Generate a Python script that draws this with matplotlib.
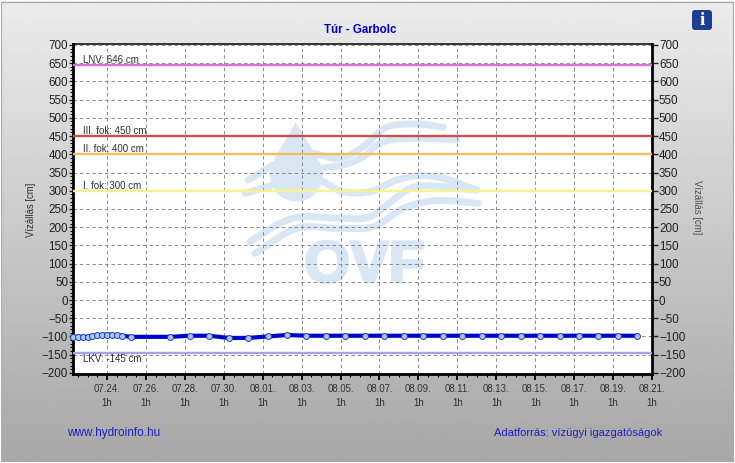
import datetime as dt
import numpy as np
import matplotlib
matplotlib.use("Agg")
import matplotlib.pyplot as plt
import matplotlib.dates as mdates
import matplotlib.patheffects as pe
from matplotlib.patches import Rectangle, Circle, Polygon, FancyBboxPatch

plt.rcParams['font.family'] = ['Liberation Sans', 'DejaVu Sans']

TITLE = "Túr - Garbolc"
YLABEL = "Vízállás [cm]"
times = ["07.22 07", "07.22 13", "07.22 19", "07.23 01", "07.23 07", "07.23 13", "07.23 19",
         "07.24 01", "07.24 07", "07.24 13", "07.24 19", "07.25 07", "07.27 07", "07.28 07",
         "07.29 07", "07.30 07", "07.31 07", "08.01 07", "08.02 07", "08.03 07", "08.04 07",
         "08.05 07", "08.06 07", "08.07 07", "08.08 07", "08.09 07", "08.10 07", "08.11 07",
         "08.12 07", "08.13 07", "08.14 07", "08.15 07", "08.16 07", "08.17 07", "08.18 07",
         "08.19 07", "08.20 07"]
levels = [-101, -101, -101, -101, -99, -97, -96, -95, -95, -97, -98, -101, -101, -98,
          -98, -104, -104, -100, -96, -98, -98,
          -98, -98, -98, -98, -98, -98, -98,
          -98, -98, -98, -98, -98, -98, -98,
          -98, -98]
threshold_names = ["LNV: 646 cm", "III. fok: 450 cm", "II. fok: 400 cm", "I. fok: 300 cm", "LKV: -145 cm"]
threshold_values = [646, 450, 400, 300, -145]
threshold_colors = ["#d873d8", "#c85050", "#f0c060", "#f6f28c", "#a4a4ee"]
tick_start = "07.24 01"
tick_end = "08.21 01"

W, H = 735, 463
fig = plt.figure(figsize=(W / 100, H / 100), dpi=100)

def parse(s):
    return dt.datetime.strptime("2024." + s, "%Y.%m.%d %H")

# background layer in pixel coordinates
bg = fig.add_axes([0, 0, 1, 1], zorder=0)
bg.set_xlim(0, W); bg.set_ylim(H, 0); bg.axis('off')
grad = np.linspace(0.925, 0.655, 256).reshape(-1, 1)
bg.imshow(grad, extent=(0, W, H, 0), aspect='auto', cmap='gray', vmin=0, vmax=1, zorder=0)
bg.set_xlim(0, W); bg.set_ylim(H, 0)
bg.add_patch(Rectangle((1.5, 1.5), W - 3, H - 3, fill=False, ec="#a8a8a8", lw=0.9, zorder=1))
bg.add_patch(Rectangle((0, 0), W, H, fill=False, ec="#ffffff", lw=1.5, zorder=1))
bg.add_patch(Rectangle((73, 44), 579, 330, fc="white", ec="none", zorder=1))

WM = "#d9e6f3"
def spline(pts, n=24):
    p = np.array(pts, float)
    p = np.vstack([2 * p[0] - p[1], p, 2 * p[-1] - p[-2]])
    out = []
    for i in range(1, len(p) - 2):
        for t in np.linspace(0, 1, n, endpoint=False):
            out.append(0.5 * (2 * p[i] + (p[i + 1] - p[i - 1]) * t
                              + (2 * p[i - 1] - 5 * p[i] + 4 * p[i + 1] - p[i + 2]) * t ** 2
                              + (3 * p[i] - p[i - 1] - 3 * p[i + 1] + p[i + 2]) * t ** 3))
    out.append(p[-2])
    return np.array(out)

waves = [
    [(55, 210), (130, 165)],
    [(45, 250), (130, 225)],
    [(250, 130), (330, 145), (400, 110), (470, 52), (560, 42), (640, 52)],
    [(270, 175), (340, 165), (400, 140), (460, 95), (560, 85), (680, 90)],
    [(280, 215), (340, 245), (420, 245), (500, 210), (570, 197), (640, 205), (740, 240)],
    [(60, 395), (150, 340), (220, 320), (330, 325), (420, 320), (500, 262), (570, 228), (740, 240)],
    [(75, 430), (200, 355), (320, 355), (430, 350), (520, 295), (620, 272), (745, 280)],
]
for w in waves:
    c = spline(w)
    bg.plot(230 + c[:, 0] / 3, 110 + c[:, 1] / 3, color=WM, lw=5.0, solid_capstyle='round', zorder=2)
bg.add_patch(Circle((296.5, 175), 26.5, fc=WM, ec="none", zorder=2))
bg.add_patch(Polygon([(295.7, 122), (287, 138), (276, 155), (270.5, 170), (322.5, 170), (316, 155), (305, 138)],
                     fc=WM, ec="none", zorder=2))
ovf = bg.text(364.5, 267, "OVF", fontsize=42, fontweight='bold', color=WM, ha='center', va='center', zorder=2)
ovf.set_path_effects([pe.withStroke(linewidth=2.2, foreground=WM)])

# info icon
bg.add_patch(FancyBboxPatch((694, 12), 16, 16, boxstyle="round,pad=2,rounding_size=3", fc="#1c3f94", ec="none", zorder=3))
bg.text(702, 20.5, "i", fontsize=14, fontweight='bold', family='Liberation Serif', color="white",
        ha='center', va='center', zorder=4)

# main axes
ax = fig.add_axes([73 / W, 1 - 374 / H, 579 / W, 330 / H], zorder=1)
ax.patch.set_alpha(0)
x = [parse(t) for t in times]
t0, t1 = parse(tick_start), parse(tick_end)
ax.set_xlim(t0 - dt.timedelta(days=1.746), t1)
ax.set_ylim(-203, 702.7)

major = [mdates.date2num(t0 + dt.timedelta(days=2 * i)) for i in range(15)]
minor = [mdates.date2num(t0 + dt.timedelta(days=0.5 * i)) for i in range(-3, 57)]
ax.set_xticks(major)
ax.set_xticks(minor, minor=True)
ax.set_xticklabels([mdates.num2date(m).strftime("%m.%d.") + "\n1h" for m in major],
                   fontsize=6.9, color="#303030", linespacing=1.45)
ax.set_yticks(np.arange(-200, 701, 50))
ax.set_yticks(np.arange(-200, 701, 10), minor=True)
ax.tick_params(axis='y', which='major', length=3, width=1, labelsize=8.4, pad=0.5, colors="#202020")
ax.tick_params(axis='y', which='minor', length=2.2, width=0.8, color="black")
ax.tick_params(axis='x', which='major', length=4, width=1.4, pad=3.5)
ax.tick_params(axis='x', which='minor', length=2.2, width=0.8)
ax.grid(True, which='major', color="#8a8a8a", ls=(0, (3.5, 3)), lw=0.7, zorder=1)
ax.set_axisbelow(True)
for s, lw in zip(['left', 'bottom', 'right', 'top'], [2, 2, 2, 1.1]):
    ax.spines[s].set_linewidth(lw)
    ax.spines[s].set_color("black")

for name, val, col in zip(threshold_names, threshold_values, threshold_colors):
    ax.axhline(val, color=col, lw=1.7, zorder=3)
    above = val > 0
    ax.annotate(name, (0, val), xycoords=('axes fraction', 'data'), xytext=(7.5, 0 if above else -0.8),
                textcoords='offset points', fontsize=7.0, color="#303030",
                va='bottom' if above else 'top', ha='left', zorder=4)

ax.plot(x, levels, color="#0000d0", lw=3.0, marker='o', ms=4.3, mfc="#a8c8f2", mec="#2040c0",
        mew=0.7, zorder=5, clip_on=False)

# right value axis
axr = ax.twinx()
axr.set_ylim(ax.get_ylim())
axr.set_yticks(np.arange(-200, 701, 50))
axr.tick_params(axis='y', length=4, width=1, labelsize=8.4, pad=1, colors="#202020")
for s in axr.spines.values():
    s.set_visible(False)

bg.text(31, 210, YLABEL, rotation=90, fontsize=6.9, color="#303030", ha='center', va='center', zorder=3)
bg.text(697, 207.5, YLABEL, rotation=270, fontsize=6.9, color="#505050", ha='center', va='center', zorder=3)
bg.text(360.5, 30, TITLE, fontsize=8.3, fontweight='bold', color="#0000c8", ha='center', va='center', zorder=3)
bg.text(67, 433, "www.hydroinfo.hu", fontsize=8.5, color="#2020c0", ha='left', va='center', zorder=3)
bg.text(662, 433, "Adatforrás: vízügyi igazgatóságok", fontsize=8.0, color="#2020c0", ha='right', va='center', zorder=3)

fig.savefig("out.png", dpi=100)
